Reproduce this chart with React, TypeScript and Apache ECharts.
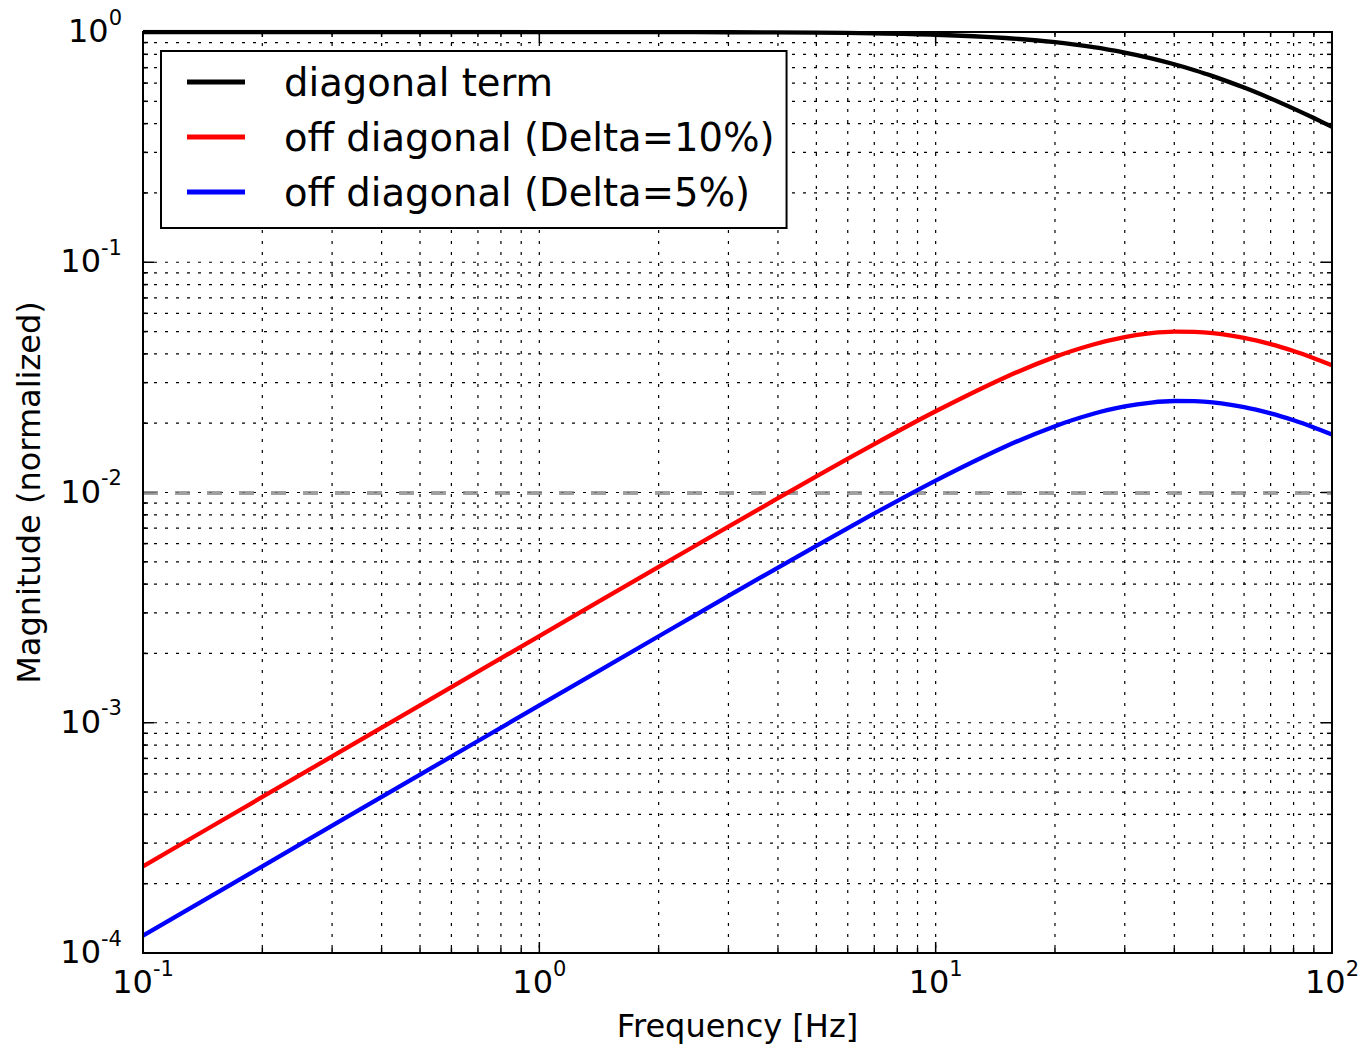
import React, { useEffect, useRef } from "react";
import * as echarts from "echarts";

const freqHz = [0.1, 0.2, 0.5, 1, 2, 3, 5, 7, 10, 15, 20, 25, 30, 35, 40, 45, 50, 60, 70, 80, 90, 100];
const diagonalTerm = [1.0, 1.0, 0.9999, 0.9997, 0.9989, 0.9975, 0.993, 0.9864, 0.9728, 0.9417, 0.9029, 0.8593, 0.8137, 0.7682, 0.7241, 0.6823, 0.6432, 0.5735, 0.5145, 0.4648, 0.4229, 0.3872];
const offDiag10 = [2.38e-4, 4.76e-4, 1.19e-3, 2.38e-3, 4.75e-3, 7.11e-3, 1.174e-2, 1.622e-2, 2.253e-2, 3.167e-2, 3.882e-2, 4.395e-2, 4.73e-2, 4.918e-2, 4.994e-2, 4.988e-2, 4.925e-2, 4.698e-2, 4.412e-2, 4.116e-2, 3.832e-2, 3.57e-2];
const offDiag5 = [1.19e-4, 2.38e-4, 5.95e-4, 1.19e-3, 2.375e-3, 3.555e-3, 5.87e-3, 8.11e-3, 1.127e-2, 1.584e-2, 1.941e-2, 2.198e-2, 2.365e-2, 2.459e-2, 2.497e-2, 2.494e-2, 2.463e-2, 2.349e-2, 2.206e-2, 2.058e-2, 1.916e-2, 1.785e-2];
const seriesNames = ["diagonal term", "off diagonal (Delta=10%)", "off diagonal (Delta=5%)"];
const seriesColors = ["#000000", "#ff0000", "#0000ff"];
const thresholdLevel = 0.01;

const X_MIN = 0.1;
const X_MAX = 100;
const Y_MIN = 1e-4;
const Y_MAX = 1;
const xDecades = [-1, 0, 1];
const yDecades = [-4, -3, -2, -1];
const mantissas = [1, 2, 3, 4, 5, 6, 7, 8, 9];

function gridTicks(decades: number[], last: number) {
  const out: Array<[number, number]> = [];
  decades.forEach((d) => {
    mantissas.forEach((m) => {
      out.push([+(m * Math.pow(10, d)).toPrecision(6), m === 1 ? 1 : 0]);
    });
  });
  out.push([last, 1]);
  return out;
}
const xGridTicks = gridTicks(xDecades, X_MAX);
const yGridTicks = gridTicks(yDecades, Y_MAX);

const FONT = "DejaVu Sans";

function powLabel(v: number) {
  const e = Math.round(Math.log10(v));
  return `{b|10}{s|${e}}`;
}

const richLabel = {
  b: { fontSize: 32, lineHeight: 40, fontFamily: FONT, color: "#000", verticalAlign: "bottom" },
  s: { fontSize: 21, lineHeight: 17, fontFamily: FONT, color: "#000", verticalAlign: "top" },
};

export default function App() {
  const ref = useRef<HTMLDivElement>(null);
  useEffect(() => {
    document.body.style.margin = "0";
    if (!ref.current) return;
    const chart = echarts.init(ref.current, null, { renderer: "svg" });
    const dot = { stroke: "#000", lineWidth: 1.2, lineDash: [3, 8] };
    const tickStyle = { stroke: "#000", lineWidth: 1.5 };
    const option: any = {
      animation: false,
      backgroundColor: "#fff",
      grid: {
        left: 143,
        top: 32,
        width: 1189,
        height: 921,
        show: true,
        borderColor: "#000",
        borderWidth: 2,
        backgroundColor: "transparent",
        outerBoundsMode: "none",
        containLabel: false,
        z: 10,
      },
      legend: {
        data: seriesNames,
        orient: "vertical",
        left: 161,
        top: 51,
        padding: [11, 12, 16, 26],
        itemGap: 15,
        itemWidth: 58,
        itemHeight: 5,
        icon: "rect",
        backgroundColor: "#fff",
        borderColor: "#000",
        borderWidth: 2,
        borderRadius: 0,
        z: 20,
        textStyle: {
          fontFamily: FONT,
          fontSize: 38.5,
          lineHeight: 40,
          color: "#000",
          padding: [0, 0, 0, 34],
        },
      },
      xAxis: {
        type: "log",
        logBase: 10,
        min: X_MIN,
        max: X_MAX,
        name: "Frequency [Hz]",
        nameLocation: "middle",
        nameGap: 57,
        nameTextStyle: { fontFamily: FONT, fontSize: 32, color: "#000" },
        axisLine: { show: false },
        axisTick: { show: false },
        splitLine: { show: false },
        minorTick: { show: false },
        axisLabel: { margin: 5, formatter: powLabel, rich: richLabel, hideOverlap: false },
      },
      yAxis: {
        type: "log",
        logBase: 10,
        min: Y_MIN,
        max: Y_MAX,
        name: "Magnitude (normalized)",
        nameLocation: "middle",
        nameGap: 98,
        nameTextStyle: { fontFamily: FONT, fontSize: 32, color: "#000" },
        axisLine: { show: false },
        axisTick: { show: false },
        splitLine: { show: false },
        axisLabel: { margin: 21, padding: [0, 0, 10, 0], formatter: powLabel, rich: richLabel, hideOverlap: false },
      },
      series: [
        {
          type: "custom",
          name: "xgrid",
          z: 1,
          silent: true,
          clip: false,
          encode: { x: 0, y: 1 },
          data: xGridTicks.map(([v, major]) => [v, Y_MIN, major]),
          renderItem: (params: any, api: any) => {
            const v = api.value(0);
            const len = api.value(2) ? 11 : 5;
            const t = api.coord([v, Y_MAX]);
            const b = api.coord([v, Y_MIN]);
            return {
              type: "group",
              children: [
                { type: "line", shape: { x1: t[0], y1: t[1], x2: b[0], y2: b[1] }, style: dot },
                { type: "line", shape: { x1: b[0], y1: b[1], x2: b[0], y2: b[1] - len }, style: tickStyle },
                { type: "line", shape: { x1: t[0], y1: t[1], x2: t[0], y2: t[1] + len }, style: tickStyle },
              ],
            };
          },
        },
        {
          type: "custom",
          name: "ygrid",
          z: 1,
          silent: true,
          clip: false,
          encode: { x: 0, y: 1 },
          data: yGridTicks.map(([v, major]) => [X_MIN, v, major]),
          renderItem: (params: any, api: any) => {
            const v = api.value(1);
            const len = api.value(2) ? 11 : 5;
            const l = api.coord([X_MIN, v]);
            const r = api.coord([X_MAX, v]);
            return {
              type: "group",
              children: [
                { type: "line", shape: { x1: l[0], y1: l[1], x2: r[0], y2: r[1] }, style: dot },
                { type: "line", shape: { x1: l[0], y1: l[1], x2: l[0] + len, y2: l[1] }, style: tickStyle },
                { type: "line", shape: { x1: r[0], y1: r[1], x2: r[0] - len, y2: r[1] }, style: tickStyle },
              ],
            };
          },
        },
        ...[diagonalTerm, offDiag10, offDiag5].map((vals, i) => ({
          type: "line",
          name: seriesNames[i],
          z: 5,
          symbol: "none",
          smooth: 0.3,
          color: seriesColors[i],
          lineStyle: { color: seriesColors[i], width: 4.3 },
          data: freqHz.map((f, j) => [f, vals[j]]),
          markLine:
            i === 2
              ? {
                  silent: true,
                  symbol: "none",
                  label: { show: false },
                  lineStyle: { color: "#888", width: 4, type: [15, 17], opacity: 0.8 },
                  data: [{ yAxis: thresholdLevel }],
                }
              : undefined,
        })),
      ],
    };
    chart.setOption(option);
    return () => chart.dispose();
  }, []);
  return <div ref={ref} style={{ width: 1358, height: 1047 }} />;
}
